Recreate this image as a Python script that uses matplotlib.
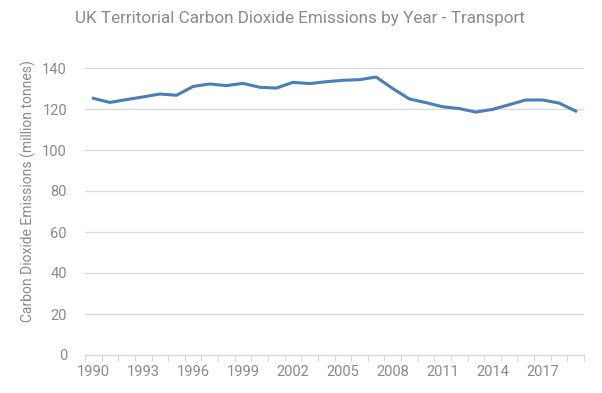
import matplotlib
matplotlib.use("Agg")
import matplotlib.pyplot as plt
from matplotlib.ticker import FixedLocator

years = list(range(1990, 2020))
emissions = [125.2, 123.2, 124.6, 125.9, 127.3, 126.7, 131.0, 132.2, 131.4, 132.5,
             130.6, 130.2, 133.0, 132.4, 133.3, 134.0, 134.3, 135.6, 130.0, 124.9,
             123.1, 121.1, 120.2, 118.5, 119.8, 122.1, 124.4, 124.4, 122.9, 119.0]
yticks = [0, 20, 40, 60, 80, 100, 120, 140]
title = "UK Territorial Carbon Dioxide Emissions by Year - Transport"
ylabel = "Carbon Dioxide Emissions (million tonnes)"

plt.rcParams['font.family'] = ['Roboto', 'DejaVu Sans']
text_color = '#8a8a8a'

fig = plt.figure(figsize=(6.02, 3.93), dpi=100)
ax = fig.add_axes([85/602, 1-355/393, (584-85)/602, (355-68)/393])

x = list(range(len(years)))
ax.plot(x, emissions, color='#4a7ebb', linewidth=2.2, clip_on=False, zorder=3)

ax.set_xlim(-0.5, len(years)-0.5)
ax.set_ylim(0, 140)
ax.set_yticks(yticks)
ax.set_yticklabels([str(v) for v in yticks])
ax.grid(axis='y', color='#d9d9d9', linewidth=0.9)
ax.set_axisbelow(True)

label_idx = [i for i, y in enumerate(years) if (y - 1990) % 3 == 0]
ax.set_xticks(label_idx)
ax.set_xticklabels([str(years[i]) for i in label_idx])
ax.xaxis.set_minor_locator(FixedLocator([i - 0.5 for i in range(len(years)+1)]))
ax.tick_params(axis='x', which='major', length=0, pad=7, labelsize=10.5, labelcolor=text_color)
ax.tick_params(axis='x', which='minor', length=4, color='#d9d9d9', width=0.8)
ax.tick_params(axis='y', length=0, pad=13, labelsize=10.5, labelcolor=text_color)

for s in ['top', 'right', 'left']:
    ax.spines[s].set_visible(False)
ax.spines['bottom'].set_color('#d9d9d9')
ax.spines['bottom'].set_linewidth(0.9)

fig.text(300/602, 1-18/393, title, ha='center', va='center', fontsize=12.3,
         color=text_color)
fig.text(28/602, 1-191/393, ylabel, ha='center', va='center', rotation=90,
         fontsize=10, color=text_color)

fig.savefig('out.png', dpi=100)
